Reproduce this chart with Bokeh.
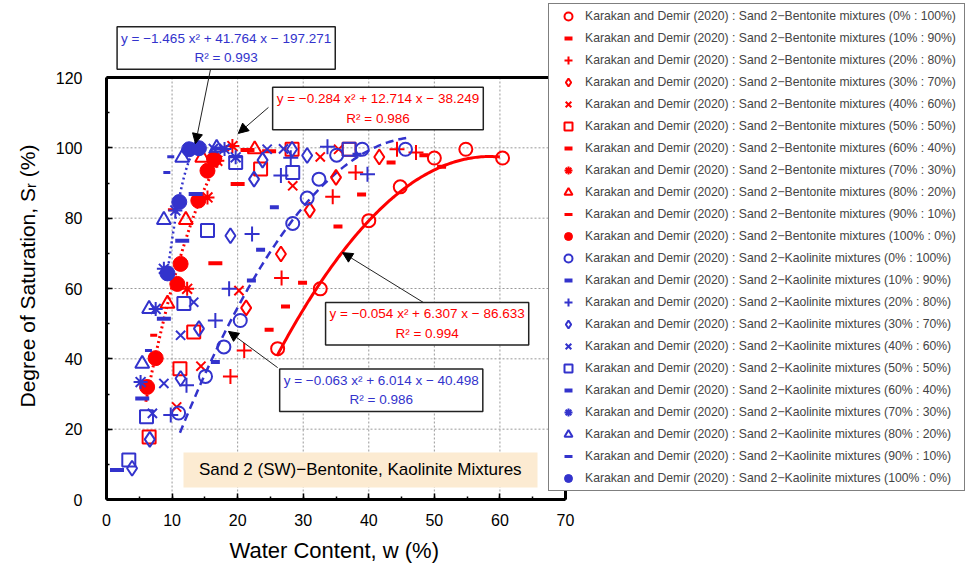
import numpy as np
from bokeh.plotting import figure
from bokeh.models import (Legend, LegendItem, Label, Arrow, NormalHead, Title,
                          SingleIntervalTicker, Range1d)
from bokeh.embed import file_html
from bokeh.resources import INLINE

RED = "#FF0000"
BLUE = "#3333CC"

ratios = ["0% : 100%", "10% : 90%", "20% : 80%", "30% : 70%", "40% : 60%",
          "50% : 50%", "60% : 40%", "70% : 30%", "80% : 20%", "90% : 10%", "100% : 0%"]

# ---- Sand 2 - Bentonite mixtures (water content w %, degree of saturation Sr %)
bent_0_w = [26.1, 32.6, 40.0, 44.8, 50.0, 54.8, 60.4]
bent_0_sr = [42.9, 59.9, 79.3, 88.9, 97.1, 99.6, 97.1]
bent_10_w = [24.8, 27.3, 29.9, 35.3, 38.9, 43.4, 48.4, 51.1]
bent_10_sr = [48.3, 54.9, 61.6, 77.6, 86.7, 95.8, 97.9, 94.6]
bent_20_w = [18.9, 21.0, 26.7, 34.5, 38.0, 44.3, 47.2]
bent_20_sr = [35.0, 42.4, 63.0, 86.1, 93.0, 99.6, 98.7]
bent_30_w = [21.3, 26.6, 31.0, 35.0, 41.6]
bent_30_sr = [54.5, 69.8, 82.3, 91.6, 97.4]
bent_40_w = [10.7, 14.4, 20.2, 28.4, 32.6, 35.4]
bent_40_sr = [26.3, 37.9, 59.4, 89.2, 97.4, 99.6]
bent_50_w = [6.5, 11.2, 13.3, 23.5, 28.3, 37.0]
bent_50_sr = [17.8, 37.2, 47.6, 94.0, 99.6, 99.6]
bent_60_w = [16.6, 20.0, 21.5, 24.8]
bent_60_sr = [67.2, 89.7, 99.4, 99.0]
bent_70_w = [12.3, 15.4, 16.9, 19.2]
bent_70_sr = [59.9, 85.9, 96.3, 100.5]
bent_80_w = [9.3, 12.1, 14.6, 22.6]
bent_80_sr = [55.7, 79.5, 97.2, 99.6]
bent_90_w = [7.2, 9.9, 17.8]
bent_90_sr = [46.7, 82.4, 99.3]
bent_100_w = [6.2, 7.5, 10.8, 11.3, 14.0, 15.4, 16.4]
bent_100_sr = [32.0, 40.2, 61.3, 67.0, 85.0, 93.5, 96.8]

# ---- Sand 2 - Kaolinite mixtures
kaol_0_w = [11.0, 15.1, 17.9, 20.4, 28.4, 30.6, 32.4, 35.1, 39.0, 45.6]
kaol_0_sr = [24.6, 35.0, 43.4, 50.9, 78.5, 85.7, 91.1, 97.9, 99.6, 99.6]
kaol_10_w = [16.6, 22.1, 23.5, 25.6, 38.2]
kaol_10_sr = [39.1, 62.3, 71.0, 83.1, 98.0]
kaol_20_w = [9.8, 12.2, 16.6, 18.7, 22.2, 26.6, 28.1, 33.7, 39.8]
kaol_20_sr = [24.0, 32.5, 50.9, 59.9, 75.5, 92.1, 97.2, 100.3, 92.5]
kaol_30_w = [3.9, 6.6, 11.3, 14.1, 18.9, 22.5, 23.8, 28.3, 30.6]
kaol_30_sr = [8.9, 17.1, 34.4, 48.6, 75.0, 91.1, 96.5, 99.6, 97.8]
kaol_40_w = [7.0, 8.75, 11.3, 13.3, 16.3, 24.5, 27.0]
kaol_40_sr = [24.5, 33.0, 46.7, 56.1, 99.8, 99.6, 99.7]
kaol_50_w = [3.4, 6.1, 11.8, 15.4, 19.7, 28.4, 37.0]
kaol_50_sr = [11.2, 23.5, 55.7, 76.5, 95.8, 93.0, 99.6]
kaol_60_w = [1.6, 5.45, 8.75, 11.55, 13.6, 17.0]
kaol_60_sr = [8.4, 28.7, 51.4, 73.6, 86.9, 99.8]
kaol_70_w = [5.2, 7.5, 8.75, 10.5, 18.0, 19.7]
kaol_70_sr = [33.4, 54.2, 65.6, 82.2, 99.7, 97.3]
kaol_80_w = [5.45, 6.5, 8.75, 11.55, 16.8]
kaol_80_sr = [38.6, 54.2, 79.5, 97.2, 100.0]
kaol_90_w = [6.4, 9.2, 9.8]
kaol_90_sr = [42.4, 93.0, 97.5]
kaol_100_w = [9.3, 11.1, 12.6, 14.1]
kaol_100_sr = [64.3, 84.6, 99.6, 99.9]

# ---- fitted trend lines (coefficients a, b, c of y = a x^2 + b x + c) and w ranges
fit_kaol_100 = [-1.465, 41.764, -197.271]
fit_kaol_100_range = [9.2, 13.0]
fit_bent_100 = [-0.284, 12.714, -38.249]
fit_bent_100_range = [6.0, 17.5]
fit_bent_0 = [-0.054, 6.307, -86.633]
fit_bent_0_range = [26.0, 60.0]
fit_kaol_0 = [-0.063, 6.014, -40.498]
fit_kaol_0_range = [11.2, 45.8]

# axis extents and grid positions
x_axis_max = 70
y_axis_max = 120
grid_x = [10, 20, 30, 40, 50, 60]
grid_y = [20, 40, 60, 80, 100]

bent_series = [(bent_0_w, bent_0_sr), (bent_10_w, bent_10_sr), (bent_20_w, bent_20_sr),
               (bent_30_w, bent_30_sr), (bent_40_w, bent_40_sr), (bent_50_w, bent_50_sr),
               (bent_60_w, bent_60_sr), (bent_70_w, bent_70_sr), (bent_80_w, bent_80_sr),
               (bent_90_w, bent_90_sr), (bent_100_w, bent_100_sr)]
kaol_series = [(kaol_0_w, kaol_0_sr), (kaol_10_w, kaol_10_sr), (kaol_20_w, kaol_20_sr),
               (kaol_30_w, kaol_30_sr), (kaol_40_w, kaol_40_sr), (kaol_50_w, kaol_50_sr),
               (kaol_60_w, kaol_60_sr), (kaol_70_w, kaol_70_sr), (kaol_80_w, kaol_80_sr),
               (kaol_90_w, kaol_90_sr), (kaol_100_w, kaol_100_sr)]

# marker, size, line width, filled
styles = [("circle", 13, 2, False), ("dash", 9, 4, False), ("cross", 15, 2, False),
          ("diamond", 15, 2, False), ("x", 13, 2, False), ("square", 13, 2, False),
          ("dash", 14, 4, False), ("asterisk", 14, 2, False), ("triangle", 14, 2, False),
          ("dash", 7, 3, False), ("circle", 15, 1, True)]

FONT = "Liberation Sans"

# frame: left 106 px, bottom at 499 px; extends to the top and right edges of the canvas
PX_X = 459 / 70.0
PX_Y = 422 / 120.0
X_END = 865 / PX_X
Y_END = 499 / PX_Y

p = figure(width=971, height=574, x_range=Range1d(0, X_END), y_range=Range1d(0, Y_END),
           output_backend="svg", toolbar_location=None, title=None,
           min_border_left=106, min_border_right=0, min_border_top=0, min_border_bottom=75)
p.background_fill_color = "white"
p.border_fill_color = "white"
p.outline_line_color = None
p.xgrid.visible = False
p.ygrid.visible = False

for ax in (p.xaxis[0], p.yaxis[0]):
    ax.axis_line_width = 3
    ax.axis_line_color = "black"
    ax.major_tick_in = 6
    ax.major_tick_out = 0
    ax.minor_tick_in = 3
    ax.minor_tick_out = 0
    ax.major_tick_line_width = 1.5
    ax.minor_tick_line_width = 1.5
    ax.major_label_text_font = FONT
    ax.major_label_text_font_size = "16px"
    ax.major_label_text_color = "black"

p.xaxis.ticker = SingleIntervalTicker(interval=10, num_minor_ticks=2)
p.yaxis.ticker = SingleIntervalTicker(interval=20, num_minor_ticks=2)
p.xaxis.bounds = (0, x_axis_max)
p.yaxis.bounds = (0, y_axis_max)
p.xaxis.major_label_standoff = 14
p.yaxis.major_label_standoff = 24

# axis titles (placed in the side panels so they can be aligned on the axes box)
p.add_layout(Title(text="Water Content, w (%)", align="left", offset=123,
                   vertical_align="top", standoff=18, text_font=FONT,
                   text_font_size="22px", text_font_style="normal", text_color="black"), "below")
p.add_layout(Title(text="Degree of Saturation, S\u1d63 (%)", align="left", offset=92,
                   vertical_align="middle", standoff=26, text_font=FONT,
                   text_font_size="21px", text_font_style="normal", text_color="black"), "left")

# dotted grid inside the axes box
p.segment(x0=grid_x, y0=[0] * len(grid_x), x1=grid_x, y1=[y_axis_max] * len(grid_x),
          line_color="#999999", line_width=1, line_dash="2 2")
p.segment(x0=[0] * len(grid_y), y0=grid_y, x1=[x_axis_max] * len(grid_y), y1=grid_y,
          line_color="#999999", line_width=1, line_dash="2 2")

# beige caption box
p.quad(left=[11.74], right=[65.73], bottom=[3.41], top=[13.36],
       fill_color="#FCEBD2", line_color=None)

# axes box
p.quad(left=[0], right=[x_axis_max], bottom=[0], top=[y_axis_max],
       fill_color=None, line_color="black", line_width=3)

# trend lines
def curve(coef, rng):
    xs = np.linspace(rng[0], rng[1], 120)
    return xs, coef[0] * xs ** 2 + coef[1] * xs + coef[2]

xs, ys = curve(fit_bent_0, fit_bent_0_range)
p.line(xs, ys, line_color=RED, line_width=3)
xs, ys = curve(fit_kaol_0, fit_kaol_0_range)
p.line(xs, ys, line_color=BLUE, line_width=2.5, line_dash="8 5")
xs, ys = curve(fit_bent_100, fit_bent_100_range)
p.line(xs, ys, line_color=RED, line_width=3, line_dash="2 3")
xs, ys = curve(fit_kaol_100, fit_kaol_100_range)
p.line(xs, ys, line_color=BLUE, line_width=2.5, line_dash="2 3")

items = []
for name, color, series in (("Bentonite", RED, bent_series), ("Kaolinite", BLUE, kaol_series)):
    for (w, sr), (mk, sz, lw, filled), ratio in zip(series, styles, ratios):
        r = p.scatter(w, sr, marker=mk, size=sz, line_color=color, line_width=lw,
                      fill_color=color if filled else None)
        items.append(LegendItem(label=f"Karakan and Demir (2020) : Sand 2\u2212{name} mixtures ({ratio})",
                                renderers=[r]))

legend = Legend(items=items, location=(442, 8), orientation="vertical",
                glyph_width=34, glyph_height=20, label_height=20, spacing=2,
                padding=2, margin=0, label_standoff=0, label_width=377,
                label_text_font=FONT, label_text_font_size="12.2px",
                border_line_color="black", border_line_width=1.5,
                background_fill_color="white", background_fill_alpha=1)
p.add_layout(legend)

# equation boxes
def eq(x, y, text, color):
    p.add_layout(Label(x=x, y=y, text=text, text_color=color, text_font=FONT,
                       text_font_size="13.5px", text_align="center", text_baseline="middle",
                       text_line_height=1.3,
                       background_fill_color="white", background_fill_alpha=1,
                       border_line_color="#222222", border_line_width=1.5, padding=4))

eq(18.25, 128.4, "y = \u22121.465 x\u00b2 + 41.764 x \u2212 197.271\nR\u00b2 = 0.993", BLUE)
eq(41.4, 111.2, "y = \u22120.284 x\u00b2 + 12.714 x \u2212 38.249\nR\u00b2 = 0.986", RED)
eq(48.9, 50.0, "y = \u22120.054 x\u00b2 + 6.307 x \u2212 86.633\nR\u00b2 = 0.994", RED)
eq(41.9, 31.1, "y = \u22120.063 x\u00b2 + 6.014 x \u2212 40.498\nR\u00b2 = 0.986", BLUE)

def arrow(x0, y0, x1, y1):
    p.add_layout(Arrow(end=NormalHead(size=10, fill_color="black", line_color="black", line_width=1),
                       x_start=x0, y_start=y0, x_end=x1, y_end=y1,
                       line_color="#222222", line_width=1))

arrow(15.86, 122.3, 13.57, 101.2)
arrow(24.7, 111.5, 20.1, 104.1)
arrow(48.35, 56.0, 36.0, 70.2)
arrow(26.1, 37.5, 18.6, 47.8)

p.add_layout(Label(x=38.7, y=8.4, text="Sand 2 (SW)\u2212Bentonite, Kaolinite Mixtures",
                   text_font=FONT, text_font_size="17px", text_color="black",
                   text_align="center", text_baseline="middle"))

open("out.html", "w").write(file_html(p, INLINE))
